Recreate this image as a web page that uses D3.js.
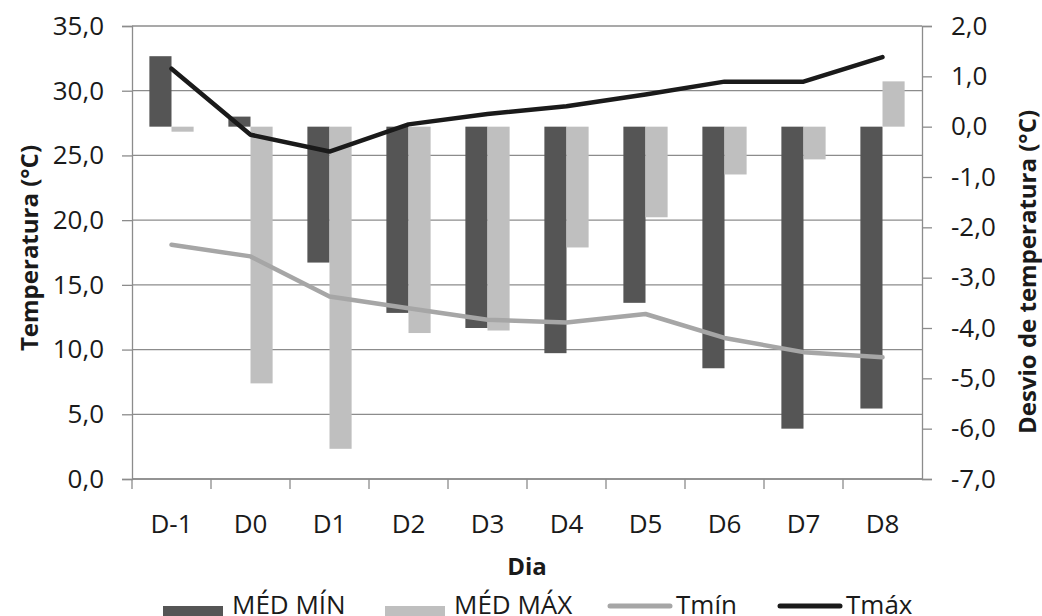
<!DOCTYPE html>
<html lang="pt">
<head>
<meta charset="UTF-8">
<title>Temperatura</title>
<style>
  body { margin: 0; background: #fff; }
  text { font-family: "Open Sans", sans-serif; fill: #1a1a1a; }
</style>
</head>
<body>
<script src="https://d3js.org/d3.v7.min.js"></script>
<script>
// dados
var dias = ["D-1", "D0", "D1", "D2", "D3", "D4", "D5", "D6", "D7", "D8"]
var medMin = [1.4, 0.2, -2.7, -3.7, -4.0, -4.5, -3.5, -4.8, -6.0, -5.6]
var medMax = [-0.1, -5.1, -6.4, -4.1, -4.05, -2.4, -1.8, -0.95, -0.65, 0.9]
var tmin = [18.1, 17.2, 14.1, 13.2, 12.3, 12.1, 12.75, 10.9, 9.8, 9.4]
var tmax = [31.7, 26.6, 25.3, 27.4, 28.2, 28.8, 29.7, 30.7, 30.7, 32.6]
var ticksEsq = d3.range(0, 36, 5)
var ticksDir = d3.range(-7, 2.5, 1)

var W = 1042, H = 616
var m = { left: 132, right: 922, top: 26, bottom: 479 }
var fmt = function (d) { return d.toFixed(1).replace('.', ',') }

var svg = d3.select('body').append('svg').attr('width', W).attr('height', H)

var x = d3.scaleBand().domain(dias).range([m.left, m.right])
var bw = x.bandwidth()
var xs = d3.scaleBand().domain(['min', 'max']).range([bw * 0.22, bw * 0.78])
var yL = d3.scaleLinear().domain([0, 35]).range([m.bottom, m.top])
var yR = d3.scaleLinear().domain([-7, 2]).range([m.bottom, m.top])

// grade
svg.append('g').selectAll('line').data(ticksEsq).enter().append('line')
    .attr('x1', m.left).attr('x2', m.right)
    .attr('y1', function (d) { return yL(d) }).attr('y2', function (d) { return yL(d) })
    .attr('stroke', '#8c8c8c').attr('stroke-width', 1.3)

// barras
var rows = dias.map(function (d, i) { return { dia: d, min: medMin[i], max: medMax[i] } })
var grp = svg.append('g').selectAll('g').data(rows).enter().append('g')
    .attr('transform', function (d) { return 'translate(' + x(d.dia) + ',0)' })
grp.append('rect')
    .attr('x', xs('min')).attr('width', xs.bandwidth())
    .attr('y', function (d) { return yR(Math.max(0, d.min)) })
    .attr('height', function (d) { return Math.abs(yR(d.min) - yR(0)) })
    .attr('fill', '#555555')
grp.append('rect')
    .attr('x', xs('max')).attr('width', xs.bandwidth())
    .attr('y', function (d) { return yR(Math.max(0, d.max)) })
    .attr('height', function (d) { return Math.abs(yR(d.max) - yR(0)) })
    .attr('fill', '#bfbfbf')

// linhas
var line = d3.line()
    .x(function (d, i) { return x(dias[i]) + bw / 2 })
    .y(function (d) { return yL(d) })
svg.append('path').datum(tmin).attr('d', line)
    .attr('fill', 'none').attr('stroke', '#a6a6a6').attr('stroke-width', 4.5)
    .attr('stroke-linejoin', 'round').attr('stroke-linecap', 'round')
svg.append('path').datum(tmax).attr('d', line)
    .attr('fill', 'none').attr('stroke', '#1a1a1a').attr('stroke-width', 4.5)
    .attr('stroke-linejoin', 'round').attr('stroke-linecap', 'round')

// eixos
var axL = svg.append('g').attr('transform', 'translate(' + m.left + ',0)')
    .call(d3.axisLeft(yL).tickValues(ticksEsq).tickFormat(fmt).tickSize(10).tickPadding(18))
var axR = svg.append('g').attr('transform', 'translate(' + m.right + ',0)')
    .call(d3.axisRight(yR).tickValues(ticksDir).tickFormat(fmt).tickSize(10).tickPadding(19))
var axB = svg.append('g').attr('transform', 'translate(0,' + m.bottom + ')')
    .call(d3.axisBottom(x).tickSize(0).tickPadding(36))
axB.selectAll('.tick').each(function (d) {
    d3.select(this).append('line').attr('x1', -bw / 2).attr('x2', -bw / 2).attr('y2', 10)
})
axB.append('line').attr('x1', m.right).attr('x2', m.right).attr('y2', 10)

svg.selectAll('.domain').attr('stroke', '#8c8c8c').attr('stroke-width', 1.3)
svg.selectAll('.tick line').attr('stroke', '#8c8c8c').attr('stroke-width', 1.3)
svg.selectAll('.tick text').attr('font-size', 26).attr('font-family', '"Open Sans", sans-serif').attr('fill', '#1a1a1a')
axB.select('.domain').attr('d', 'M' + m.left + ',0H' + m.right)

// títulos
svg.append('text').attr('transform', 'translate(38,248) rotate(-90)')
    .attr('text-anchor', 'middle').attr('font-size', 24).attr('font-weight', 'bold')
    .text('Temperatura (°C)')
svg.append('text').attr('transform', 'translate(1036,272) rotate(-90)')
    .attr('text-anchor', 'middle').attr('font-size', 24).attr('font-weight', 'bold')
    .text('Desvio de temperatura (°C)')
svg.append('text').attr('x', 527).attr('y', 575)
    .attr('text-anchor', 'middle').attr('font-size', 24).attr('font-weight', 'bold')
    .text('Dia')

// legenda
var leg = [
    { nome: 'MÉD MÍN', tipo: 'rect', cor: '#555555', x: 163 },
    { nome: 'MÉD MÁX', tipo: 'rect', cor: '#bfbfbf', x: 385 },
    { nome: 'Tmín', tipo: 'line', cor: '#a6a6a6', x: 608 },
    { nome: 'Tmáx', tipo: 'line', cor: '#1a1a1a', x: 778 }
]
var lg = svg.append('g').selectAll('g').data(leg).enter().append('g')
    .attr('transform', function (d) { return 'translate(' + d.x + ',0)' })
lg.filter(function (d) { return d.tipo == 'rect' }).append('rect')
    .attr('x', 0).attr('y', 606).attr('width', 60).attr('height', 18)
    .attr('fill', function (d) { return d.cor })
lg.filter(function (d) { return d.tipo == 'line' }).append('line')
    .attr('x1', 2).attr('x2', 62).attr('y1', 606).attr('y2', 606)
    .attr('stroke', function (d) { return d.cor }).attr('stroke-width', 5).attr('stroke-linecap', 'round')
lg.append('text')
    .attr('x', function (d) { return d.tipo == 'rect' ? 69 : 68 })
    .attr('y', 614).attr('font-size', 26)
    .text(function (d) { return d.nome })
</script>
</body>
</html>
